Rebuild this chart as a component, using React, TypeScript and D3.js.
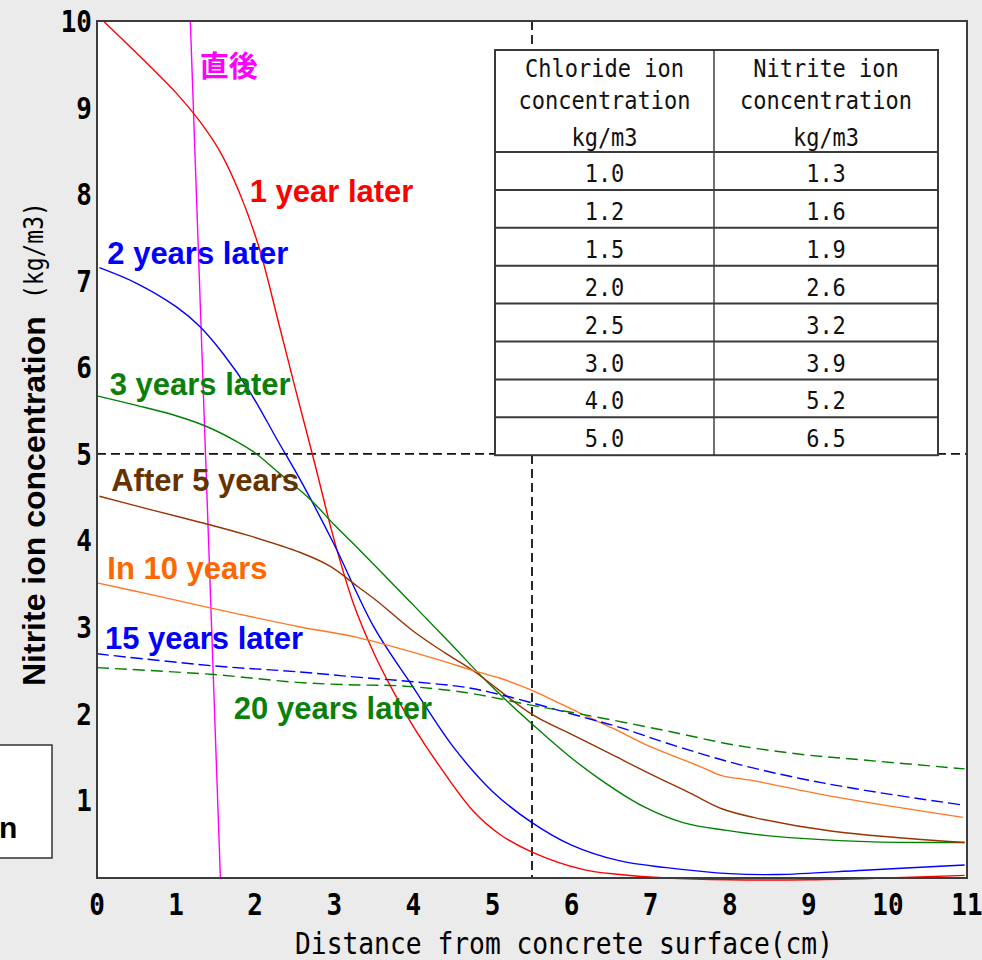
import React from 'react';
import * as d3 from 'd3';

// ---------- data ----------
const xTicks: number[] = [0, 1, 2, 3, 4, 5, 6, 7, 8, 9, 10, 11];
const yTicks: number[] = [1, 2, 3, 4, 5, 6, 7, 8, 9, 10];

const immediately: [number, number][] = [[1.18, 10.0], [1.56, 0.1]];
const year1: [number, number][] = [
  [0.08, 10.0], [0.6, 9.54], [1.0, 9.17], [1.3, 8.84], [1.55, 8.5], [1.8, 8.02], [2.05, 7.38],
  [2.3, 6.5], [2.5, 5.78], [2.75, 4.9], [3.0, 4.0], [3.25, 3.25], [3.5, 2.7], [3.75, 2.25],
  [4.0, 1.85], [4.34, 1.38], [4.75, 0.88], [5.1, 0.6], [5.5, 0.4], [6.14, 0.2], [6.61, 0.14],
  [7.2, 0.1], [8.0, 0.08], [9.0, 0.08], [10.0, 0.1], [10.97, 0.13],
];
const year2: [number, number][] = [
  [0.03, 7.15], [0.5, 6.97], [1.0, 6.7], [1.3, 6.47], [1.6, 6.15], [1.93, 5.72], [2.28, 5.16],
  [2.6, 4.65], [3.0, 3.95], [3.5, 3.0], [4.0, 2.3], [4.5, 1.62], [5.0, 1.1], [5.5, 0.74],
  [6.0, 0.48], [6.6, 0.3], [7.2, 0.22], [8.0, 0.15], [8.6, 0.14], [9.7, 0.19], [10.97, 0.25],
];
const year3: [number, number][] = [
  [0.0, 5.67], [0.5, 5.56], [1.0, 5.44], [1.4, 5.31], [1.75, 5.15], [2.0, 5.01], [2.3, 4.78],
  [2.7, 4.47], [3.0, 4.18], [3.32, 3.89], [3.96, 3.29], [4.5, 2.78], [4.84, 2.45], [5.2, 2.13],
  [5.5, 1.88], [5.94, 1.53], [6.36, 1.24], [6.9, 0.93], [7.41, 0.74], [7.96, 0.65], [8.47, 0.59],
  [9.73, 0.52], [10.97, 0.51],
];
const year5: [number, number][] = [
  [0.03, 4.51], [0.7, 4.35], [1.3, 4.21], [1.9, 4.06], [2.57, 3.86], [2.95, 3.7], [3.29, 3.47],
  [3.54, 3.3], [4.0, 2.95], [4.4, 2.7], [4.78, 2.48], [5.5, 1.99], [6.0, 1.76], [6.5, 1.53],
  [7.0, 1.3], [7.5, 1.08], [7.9, 0.9], [8.3, 0.8], [9.3, 0.64], [10.97, 0.51],
];
const year10: [number, number][] = [
  [0.0, 3.51], [0.7, 3.37], [1.43, 3.22], [2.57, 3.0], [3.29, 2.88], [4.25, 2.64], [4.78, 2.49],
  [5.09, 2.41], [5.47, 2.28], [6.14, 1.99], [6.52, 1.83], [6.99, 1.62], [7.62, 1.39], [7.91, 1.28],
  [8.26, 1.23], [9.31, 1.04], [10.95, 0.8],
];
const year15: [number, number][] = [
  [0.0, 2.69], [1.48, 2.55], [2.57, 2.48], [3.29, 2.42], [3.96, 2.37], [4.68, 2.3], [5.09, 2.22],
  [5.47, 2.13], [6.14, 1.96], [6.61, 1.84], [7.2, 1.66], [8.04, 1.43], [8.89, 1.25], [9.73, 1.11],
  [10.97, 0.94],
];
const year20: [number, number][] = [
  [0.0, 2.53], [1.48, 2.45], [2.53, 2.36], [3.29, 2.33], [3.83, 2.32], [4.68, 2.24], [5.47, 2.1],
  [6.14, 1.99], [7.2, 1.8], [8.04, 1.64], [8.89, 1.53], [9.73, 1.46], [10.97, 1.36],
];

const chloride: string[] = ['1.0', '1.2', '1.5', '2.0', '2.5', '3.0', '4.0', '5.0'];
const nitrite: string[] = ['1.3', '1.6', '1.9', '2.6', '3.2', '3.9', '5.2', '6.5'];

const refX = 5.5;
const refY = 5;

export default function App() {
  const W = 982;
  const H = 960;
  const L = 97;
  const R = 967;
  const T = 21;
  const B = 878;
  const MONO = '"DejaVu Sans Mono", monospace';
  const SANS = '"Liberation Sans", Arial, sans-serif';
  const CJK = '"Noto Sans CJK JP", sans-serif';
  const tx0 = 495;
  const tx1 = 714;
  const tx2 = 938;
  const ty0 = 50;
  const tyh = 152;
  const rowH = 37.9;

  const series = [
    { name: '直後', data: immediately, color: '#ff00ff', label: '#ff00ff', dash: '', curve: 'linear', at: [1.3, 9.35] },
    { name: '1 year later', data: year1, color: '#ff0000', label: '#ff0000', dash: '', curve: 'smooth', at: [1.93, 7.91] },
    { name: '2 years later', data: year2, color: '#0000ff', label: '#0000ff', dash: '', curve: 'smooth', at: [0.13, 7.19] },
    { name: '3 years later', data: year3, color: '#008000', label: '#0a800a', dash: '', curve: 'smooth', at: [0.16, 5.68] },
    { name: 'After 5 years', data: year5, color: '#993300', label: '#663300', dash: '', curve: 'smooth', at: [0.18, 4.57] },
    { name: 'In 10 years', data: year10, color: '#ff7722', label: '#ff6600', dash: '', curve: 'smooth', at: [0.13, 3.55] },
    { name: '15 years later', data: year15, color: '#0000ff', label: '#0000ff', dash: '12,5', curve: 'smooth', at: [0.1, 2.74] },
    { name: '20 years later', data: year20, color: '#008000', label: '#0a800a', dash: '12,6', curve: 'smooth', at: [1.73, 1.94] },
  ];

  const x = d3.scaleLinear().domain([0, 11]).range([L, R]);
  const y = d3.scaleLinear().domain([0.1, 10]).range([B, T]);
  const smooth = d3.line<[number, number]>().x(d => x(d[0])).y(d => y(d[1])).curve(d3.curveCatmullRom.alpha(0.5));
  const lin = d3.line<[number, number]>().x(d => x(d[0])).y(d => y(d[1]));

  const colC1 = (tx0 + tx1) / 2;
  const colC2 = (tx1 + tx2) / 2;
  const yBottom = tyh + chloride.length * rowH;
  const headers = [
    { lines: ['Chloride ion', 'concentration', 'kg/m3'], cx: colC1 },
    { lines: ['Nitrite ion', 'concentration', 'kg/m3'], cx: colC2 },
  ];
  const headerBaselines = [77, 109, 146];

  return (
    <svg width={W} height={H} style={{ position: 'absolute', left: 0, top: 0 }} xmlns="http://www.w3.org/2000/svg">
      <rect x={0} y={0} width={W} height={H} fill="#ebebeb" />
      <rect x={L} y={T} width={R - L} height={B - T} fill="#ffffff" />

      <line x1={L} x2={R} y1={y(refY)} y2={y(refY)} stroke="#111" strokeWidth={1.8} strokeDasharray="9,5" />
      <line x1={x(refX)} x2={x(refX)} y1={T} y2={B} stroke="#111" strokeWidth={1.8} strokeDasharray="9,5" />

      {series.map(s => (
        <path key={s.name} d={(s.curve === 'smooth' ? smooth : lin)(s.data as [number, number][]) || ''} fill="none"
          stroke={s.color} strokeWidth={1.4} strokeDasharray={s.dash ? s.dash : undefined} />
      ))}

      <g>
        <rect x={tx0} y={ty0} width={tx2 - tx0} height={yBottom - ty0} fill="#fff" stroke="#3a3a3a" strokeWidth={2} />
        <line x1={tx1} x2={tx1} y1={ty0} y2={yBottom} stroke="#222" strokeWidth={1.3} />
        {chloride.map((_, i) => (
          <line key={'r' + i} x1={tx0} x2={tx2} y1={tyh + i * rowH} y2={tyh + i * rowH} stroke="#3a3a3a" strokeWidth={2} />
        ))}
        {headers.map((h, j) => (
          <g key={'h' + j} fontFamily={MONO} fontSize={22} textAnchor="middle" fill="#111">
            {h.lines.map((ln, k) => (
              <text key={k} transform={`translate(${h.cx},${headerBaselines[k]}) scale(1,1.15)`}>{ln}</text>
            ))}
          </g>
        ))}
        {chloride.map((c, i) => (
          <g key={'v' + i} fontFamily={MONO} fontSize={22} textAnchor="middle" fill="#111">
            <text transform={`translate(${colC1},${tyh + i * rowH + 30}) scale(1,1.15)`}>{c}</text>
            <text transform={`translate(${colC2},${tyh + i * rowH + 30}) scale(1,1.15)`}>{nitrite[i]}</text>
          </g>
        ))}
      </g>

      {series.map(s => (
        <text key={'l' + s.name} x={x(s.at[0])} y={y(s.at[1])} fill={s.label}
          fontFamily={s.name === '直後' ? CJK : SANS} fontWeight="bold" fontSize={s.name === '直後' ? 29 : 31}>
          {s.name}
        </text>
      ))}

      <rect x={L} y={T} width={R - L} height={B - T} fill="none" stroke="#3c3c3c" strokeWidth={2} />

      {yTicks.map(t => (
        <text key={'y' + t} transform={`translate(92,${y(t) + 11}) scale(1,1.15)`} textAnchor="end"
          fontFamily={MONO} fontWeight="bold" fontSize={26} fill="#000">{t}</text>
      ))}
      {xTicks.map(t => (
        <text key={'x' + t} transform={`translate(${x(t)},915) scale(1,1.15)`} textAnchor="middle"
          fontFamily={MONO} fontWeight="bold" fontSize={26} fill="#000">{t}</text>
      ))}

      <text transform="translate(564,954) scale(1,1.15)" textAnchor="middle" fontFamily={MONO} fontSize={26}
        textLength={538} lengthAdjust="spacingAndGlyphs" fill="#000">Distance from concrete surface(cm)</text>
      <text transform="translate(45,686) rotate(-90)" fontFamily={SANS} fontWeight="bold" fontSize={32} fill="#000">
        Nitrite ion concentration
      </text>
      <text transform="translate(43,299) rotate(-90) scale(1,1.15)" fontFamily={MONO} fontSize={23} fill="#000">
        (kg/m3)
      </text>

      <rect x={-2} y={745} width={54} height={113} fill="#fff" stroke="#333" strokeWidth={1.5} />
      <text x={-1} y={838} fontFamily={SANS} fontWeight="bold" fontSize={30} fill="#000">n</text>
    </svg>
  );
}
